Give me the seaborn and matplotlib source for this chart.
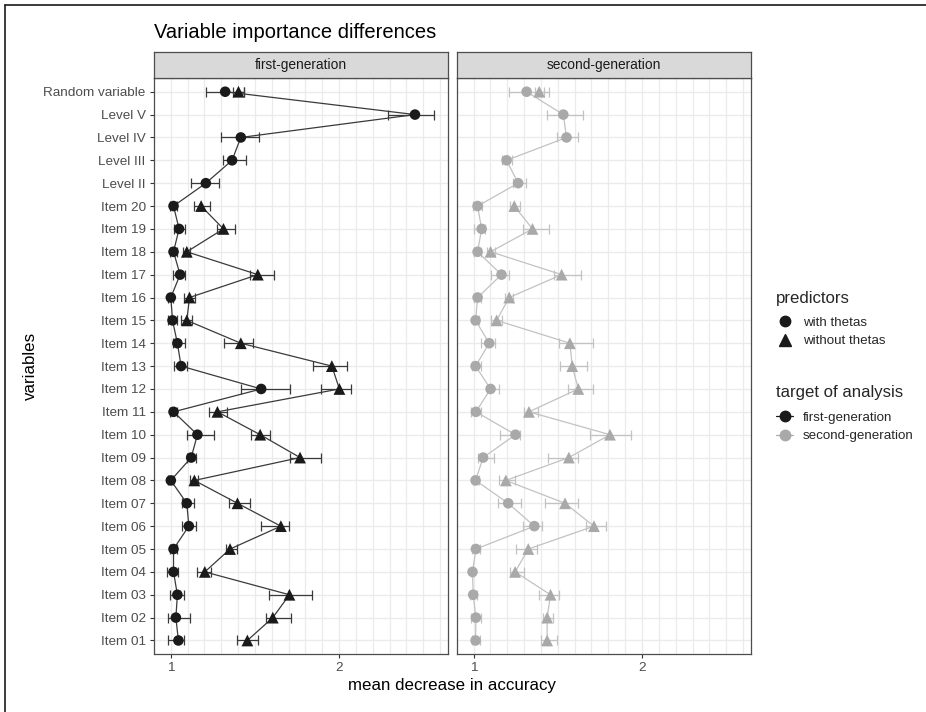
import numpy as np
import pandas as pd
import seaborn as sns
import matplotlib.pyplot as plt
from matplotlib.lines import Line2D

W, H = 926, 712

variables = ["Random variable", "Level V", "Level IV", "Level III", "Level II",
             "Item 20", "Item 19", "Item 18", "Item 17", "Item 16", "Item 15",
             "Item 14", "Item 13", "Item 12", "Item 11", "Item 10", "Item 09",
             "Item 08", "Item 07", "Item 06", "Item 05", "Item 04", "Item 03",
             "Item 02", "Item 01"]

# first-generation, with thetas (circles)
fg_with = [1.323, 2.451, 1.416, 1.364, 1.208, 1.016, 1.049, 1.016, 1.055, 1.000, 1.010,
           1.039, 1.061, 1.537, 1.016, 1.158, 1.121, 1.000, 1.095, 1.107, 1.016, 1.016,
           1.039, 1.030, 1.045]
fg_with_lo = [1.208, 2.289, 1.299, 1.309, 1.119, 0.995, 1.021, 0.997, 1.012, 0.985, 0.986,
              1.012, 1.016, 1.416, 0.998, 1.095, 1.095, 0.985, 1.069, 1.069, 0.998, 0.980,
              0.996, 0.982, 0.982]
fg_with_hi = [1.437, 2.566, 1.526, 1.446, 1.287, 1.035, 1.085, 1.035, 1.085, 1.015, 1.036,
              1.085, 1.095, 1.709, 1.034, 1.257, 1.149, 1.015, 1.140, 1.149, 1.036, 1.045,
              1.079, 1.115, 1.081]

# first-generation, without thetas (triangles); no level variables
fg_without = [1.402, None, None, None, None, 1.180, 1.313, 1.095, 1.517, 1.111, 1.095,
              1.416, 1.957, 2.002, 1.277, 1.531, 1.768, 1.140, 1.396, 1.654, 1.352, 1.202,
              1.705, 1.606, 1.455]
fg_without_lo = [1.372, None, None, None, None, 1.138, 1.273, 1.075, 1.471, 1.081, 1.061,
                 1.318, 1.847, 1.891, 1.228, 1.475, 1.709, 1.115, 1.346, 1.537, 1.329, 1.158,
                 1.586, 1.564, 1.392]
fg_without_hi = [1.437, None, None, None, None, 1.234, 1.382, 1.115, 1.616, 1.144, 1.125,
                 1.491, 2.049, 2.071, 1.336, 1.590, 1.893, 1.164, 1.471, 1.705, 1.392, 1.238,
                 1.841, 1.717, 1.517]

# second-generation, with thetas
sg_with = [1.315, 1.533, 1.552, 1.196, 1.265, 1.024, 1.048, 1.024, 1.166, 1.024, 1.012,
           1.093, 1.012, 1.101, 1.014, 1.249, 1.057, 1.012, 1.206, 1.361, 1.014, 0.994,
           0.998, 1.014, 1.012]
sg_with_lo = [1.212, 1.437, 1.497, 1.166, 1.235, 0.998, 1.000, 1.005, 1.101, 1.005, 0.995,
              1.043, 0.988, 1.077, 0.984, 1.160, 1.028, 0.995, 1.146, 1.291, 0.990, 0.985,
              0.976, 0.984, 0.988]
sg_with_hi = [1.418, 1.648, 1.618, 1.226, 1.311, 1.053, 1.067, 1.045, 1.210, 1.045, 1.030,
              1.127, 1.042, 1.150, 1.044, 1.275, 1.122, 1.030, 1.279, 1.408, 1.037, 1.003,
              1.022, 1.042, 1.037]

# second-generation, without thetas
sg_without = [1.390, None, None, None, None, 1.242, 1.350, 1.101, 1.523, 1.212, 1.137,
              1.572, 1.586, 1.622, 1.329, 1.810, 1.566, 1.192, 1.543, 1.715, 1.325, 1.247,
              1.457, 1.437, 1.437]
sg_without_lo = [1.364, None, None, None, None, 1.216, 1.291, 1.077, 1.477, 1.186, 1.101,
                 1.507, 1.513, 1.562, 1.299, 1.691, 1.440, 1.150, 1.424, 1.667, 1.255, 1.216,
                 1.388, 1.410, 1.398]
sg_without_hi = [1.449, None, None, None, None, 1.275, 1.447, 1.127, 1.638, 1.236, 1.170,
                 1.707, 1.675, 1.711, 1.384, 1.933, 1.622, 1.245, 1.618, 1.784, 1.378, 1.302,
                 1.507, 1.469, 1.493]

frames = []
for gen, pred, m, lo, hi in [
        ("first-generation", "with thetas", fg_with, fg_with_lo, fg_with_hi),
        ("first-generation", "without thetas", fg_without, fg_without_lo, fg_without_hi),
        ("second-generation", "with thetas", sg_with, sg_with_lo, sg_with_hi),
        ("second-generation", "without thetas", sg_without, sg_without_lo, sg_without_hi)]:
    frames.append(pd.DataFrame({"variable": variables, "pos": range(len(variables)),
                                "mean": m, "lo": lo, "hi": hi,
                                "generation": gen, "predictors": pred}))
df = pd.concat(frames).dropna().astype({"mean": float, "lo": float, "hi": float})

sns.set_theme(style="white")
plt.rcParams["font.family"] = ["Liberation Sans", "DejaVu Sans"]

fig = plt.figure(figsize=(W / 100, H / 100), dpi=100)


def px_axes(x0, y0, x1, y1):
    return fig.add_axes([x0 / W, 1 - y1 / H, (x1 - x0) / W, (y1 - y0) / H])


panels = [("first-generation", 154, 447.7, "#1a1a1a", "#3a3a3a"),
          ("second-generation", 456.7, 750.7, "#a9a9a9", "#c2c2c2")]
PT, PB, ST = 78, 654.2, 52.3

for i, (gen, x0, x1, cpt, cln) in enumerate(panels):
    ax = px_axes(x0, PT, x1, PB)
    sub = df[df.generation == gen]
    for pred, mk, s in [("with thetas", "o", 58), ("without thetas", "^", 72)]:
        d = sub[sub.predictors == pred]
        ax.errorbar(d["mean"], d["pos"], xerr=[d["mean"] - d["lo"], d["hi"] - d["mean"]],
                    fmt="none", ecolor=cln, elinewidth=0.9, capsize=3.5, capthick=0.9, zorder=2)
        ln = d if pred == "with thetas" else d[d.variable.str.startswith("Item")]
        sns.lineplot(data=ln, x="mean", y="pos", sort=False, estimator=None, orient="y",
                     color=cln, lw=0.9, ax=ax, zorder=2)
        sns.scatterplot(data=d, x="mean", y="pos", marker=mk, s=s, color=cpt,
                        edgecolor="none", linewidth=0, legend=False, ax=ax, zorder=3)

    ax.set_xlim(0.9005, 2.6455)
    ax.set_ylim(24.6, -0.6)
    ax.set_xticks([1, 2])
    ax.set_xticklabels(["1", "2"])
    ax.set_xticks(np.arange(0.9, 2.65, 0.1), minor=True)
    ax.set_yticks(range(len(variables)))
    ax.grid(which="major", color="#ebebeb", lw=1.0)
    ax.grid(which="minor", axis="x", color="#ebebeb", lw=0.9)
    ax.set_axisbelow(True)
    ax.set_xlabel("")
    ax.set_ylabel("")
    for sp in ax.spines.values():
        sp.set_color("#4d4d4d")
        sp.set_linewidth(0.9)
    ax.tick_params(axis="x", which="major", length=3, width=0.8, color="#333333",
                   labelsize=9.7, labelcolor="#4d4d4d", pad=2.5, bottom=True)
    ax.tick_params(axis="x", which="minor", length=0)
    if i == 0:
        ax.set_yticklabels(variables)
        ax.tick_params(axis="y", length=3, width=0.8, color="#333333", left=True,
                       labelsize=9.7, labelcolor="#4d4d4d", pad=3)
    else:
        ax.tick_params(axis="y", length=0, labelleft=False)

    sax = px_axes(x0, ST, x1, PT)
    sax.set_facecolor("#d9d9d9")
    sax.set_xticks([])
    sax.set_yticks([])
    for sp in sax.spines.values():
        sp.set_color("#4d4d4d")
        sp.set_linewidth(0.9)
    sax.text(0.5, 0.5, gen, ha="center", va="center", fontsize=9.9, color="#1a1a1a",
             transform=sax.transAxes)

fig.text(154 / W, 1 - 33 / H, "Variable importance differences", fontsize=14.5,
         ha="left", va="center", color="black")
fig.text(452.3 / W, 1 - 685.7 / H, "mean decrease in accuracy", fontsize=12.2,
         ha="center", va="center", color="black")
fig.text(30 / W, 1 - 366 / H, "variables", fontsize=12.2, rotation=90,
         ha="center", va="center", color="black")

h1 = [Line2D([], [], marker="o", ls="", color="#1a1a1a", markersize=7.5),
      Line2D([], [], marker="^", ls="", color="#1a1a1a", markersize=8.5)]
leg1 = fig.legend(handles=h1, labels=["with thetas", "without thetas"], title="predictors",
                  loc="upper left", bbox_to_anchor=(776 / W, 1 - 290.5 / H), frameon=False,
                  fontsize=9.6, title_fontsize=12.1, handlelength=1.3, handletextpad=0.72,
                  labelspacing=0.45, borderpad=0, borderaxespad=0)
leg1._legend_box.align = "left"
leg1._legend_box.sep = 8

h2 = [Line2D([], [], marker="o", color="#1a1a1a", markersize=7.5, lw=0.9),
      Line2D([], [], marker="o", color="#a9a9a9", markersize=7.5, lw=0.9)]
leg2 = fig.legend(handles=h2, labels=["first-generation", "second-generation"],
                  title="target of analysis", loc="upper left",
                  bbox_to_anchor=(776 / W, 1 - 385.5 / H), frameon=False,
                  fontsize=9.6, title_fontsize=12.1, handlelength=1.3, handletextpad=0.72,
                  labelspacing=0.45, borderpad=0, borderaxespad=0)
leg2._legend_box.align = "left"
leg2._legend_box.sep = 8

# partial outer frame (left and top edges visible in the reference)
fig.add_artist(Line2D([5 / W, 5 / W], [0, 1 - 5 / H], transform=fig.transFigure,
                      color="#1a1a1a", lw=1.2))
fig.add_artist(Line2D([5 / W, 1], [1 - 5 / H, 1 - 5 / H], transform=fig.transFigure,
                      color="#1a1a1a", lw=1.2))

fig.savefig("out.png", dpi=100)
